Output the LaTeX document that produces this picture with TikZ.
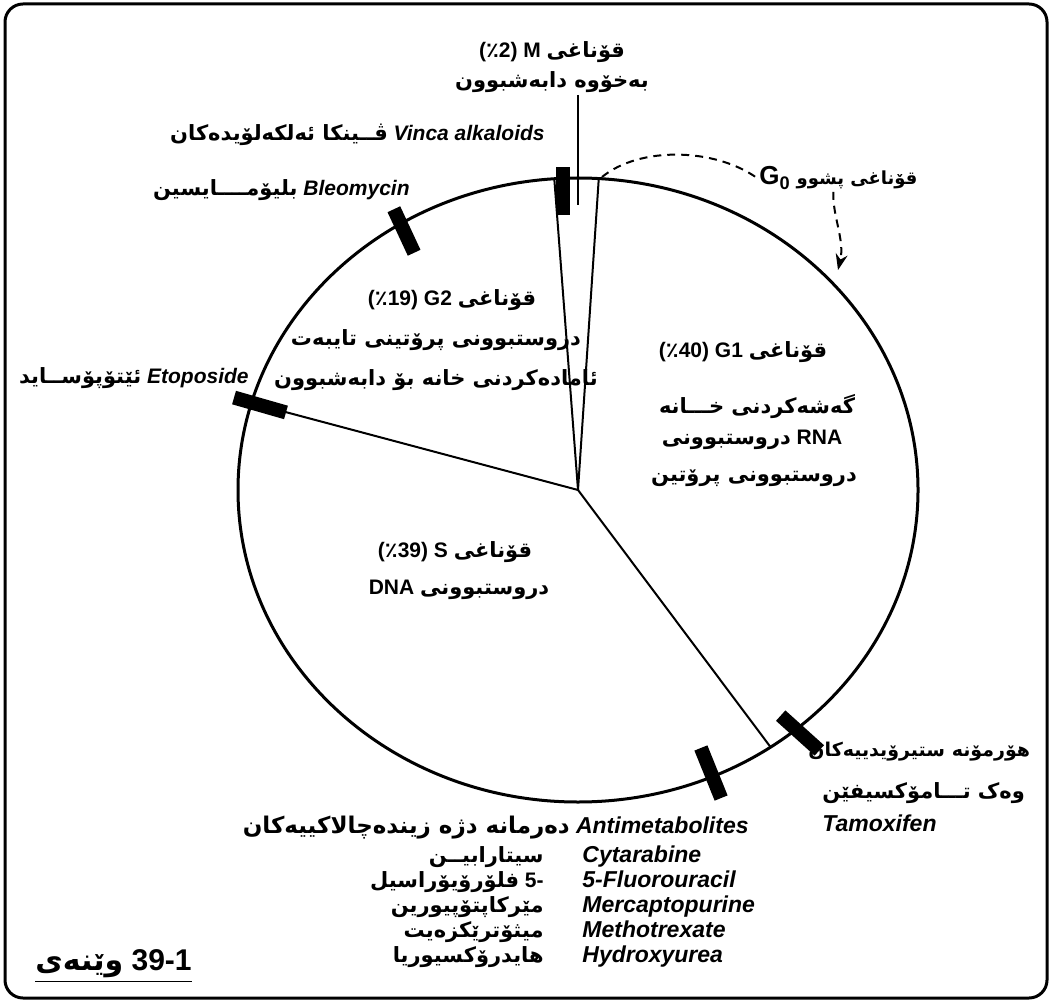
\documentclass[tikz,border=0pt]{standalone}
\usepackage{fontspec}
\setmainfont{Liberation Sans}
\newfontfamily\kufont[Script=Arabic]{DejaVu Sans}
\TeXXeTstate=1
\usetikzlibrary{arrows.meta,positioning,calc}
\newcommand{\ku}[1]{{\kufont\bfseries\beginR #1\endR}}
\newcommand{\drug}[1]{{\bfseries\itshape #1}}
\newcommand{\pc}{{\kufont\bfseries ٪}}
\tikzset{
  kutext/.style={font=\fontsize{10.5}{13}\selectfont\bfseries,inner sep=1pt},
  druglist/.style={kutext,font=\fontsize{11.5}{13}\selectfont\bfseries},
  drugbar/.style={fill=black,draw=none,minimum width=24pt,minimum height=7pt,inner sep=0pt},
  cycleline/.style={draw=black,line width=1.5pt},
  phaseline/.style={draw=black,line width=1pt},
  restline/.style={draw=black,line width=1pt,dash pattern=on 4pt off 3pt},
  frame/.style={draw=black,line width=1.5pt,rounded corners=9pt}
}
\begin{document}
\begin{tikzpicture}[x=0.5pt,y=-0.5pt]
  \useasboundingbox (0,0) rectangle (1052,1004);
  \draw[frame] (5,4) rectangle (1047,998);

  % the cycle
  \coordinate (c) at (578,490);
  \draw[cycleline] (c) ellipse [x radius=340,y radius=312];
  \coordinate (mleft) at ($(c)+(-94:340 and 312)$);
  \coordinate (mright) at ($(c)+(-86.5:340 and 312)$);
  \coordinate (gtwos) at ($(c)+(-163.8:340 and 312)$);
  \coordinate (sgone) at ($(c)+(55.5:340 and 312)$);
  \draw[phaseline] (c) -- (mleft);
  \draw[phaseline] (c) -- (mright);
  \draw[phaseline] (c) -- (gtwos);
  \draw[phaseline] (c) -- (sgone);

  % where the drugs act
  \node[drugbar,rotate=90] (vincabar) at (563,191) {};
  \node[drugbar,rotate=115] (bleobar) at (404,231) {};
  \node[drugbar,rotate=-16,minimum width=27pt] (etobar) at (260,405) {};
  \node[drugbar,rotate=-42,minimum width=26pt] (tamobar) at (800,733) {};
  \node[drugbar,rotate=-68,minimum width=27pt] (antibar) at (711,773) {};

  % phase M
  \node[kutext] (mhead) at (552,52) {(\pc 2)\ M\ \ku{قۆناغی}};
  \node[kutext] (mtext) at (552,82) {\ku{بەخۆوە دابەشبوون}};
  \coordinate (mtip) at (578,205);
  \draw[phaseline] (mtext.south -| mtip) -- (mtip);

  % phase G0
  \node[kutext,anchor=west] (gzero) at (757,178)
    {{\fontsize{13}{13}\selectfont G\textsubscript{0}}\ {\fontsize{9}{11}\selectfont\ku{قۆناغی پشوو}}};
  \coordinate (gzerostart) at (602,177);
  \coordinate (gzeroend) at (838,270);
  \draw[restline] (gzerostart) .. controls (640,146) and (715,148) .. (gzero.west);
  \draw[restline,-{Stealth[length=8pt,width=6pt]}] ($(gzero.south)+(-5,0)$)
    .. controls (832,215) and (845,240) .. (gzeroend);

  % phase G2
  \node[kutext] (gtwohead) at (452,300) {(\pc 19)\ G2\ \ku{قۆناغی}};
  \node[kutext] (gtwoa) at (436,340) {\ku{دروستبوونی پرۆتینی تایبەت}};
  \node[kutext] (gtwob) at (436,380) {\ku{ئامادەکردنی خانە بۆ دابەشبوون}};

  % phase G1
  \node[kutext] (gonehead) at (743,352) {(\pc 40)\ G1\ \ku{قۆناغی}};
  \node[kutext] (gonea) at (757,407) {\ku{گەشەکردنی خـــانە}};
  \node[kutext] (goneb) at (752,440) {\ku{دروستبوونی}\ RNA};
  \node[kutext] (gonec) at (754,478) {\ku{دروستبوونی پرۆتین}};

  % phase S
  \node[kutext] (shead) at (455,552) {(\pc 39)\ S\ \ku{قۆناغی}};
  \node[kutext] (stext) at (459,590) {DNA\ \ku{دروستبوونی}};

  % drugs
  \node[kutext,anchor=east] (vinca) at (547,135)
    {\ku{ڤــینکا ئەلکەلۆیدەکان}\ \drug{Vinca alkaloids}};
  \node[kutext,anchor=east] (bleo) at (412,190)
    {\ku{بلیۆمــــایسین}\ \drug{Bleomycin}};
  \node[kutext,anchor=east] (eto) at (251,378)
    {\ku{ئێتۆپۆســاید}\ \drug{Etoposide}};
  \node[kutext,anchor=west,font=\fontsize{9.5}{11}\selectfont\bfseries] (tamoa) at (806,752)
    {\ku{هۆرمۆنە ستیرۆیدییەکان}};
  \node[kutext,anchor=west] (tamob) at (820,793) {\ku{وەک تـــامۆکسیفێن}};
  \node[druglist,anchor=west] (tamoc) at (820,823) {\drug{Tamoxifen}};
  \node[druglist,anchor=east] (anti) at (751,828)
    {\ku{دەرمانە دژە زیندەچالاکییەکان}\ \drug{Antimetabolites}};
  \foreach \kuname/\laname [count=\i] in {%
      {\ku{سیتارابیــن}}/Cytarabine,
      {\ku{فلۆرۆیۆراسیل}\ 5-}/5-Fluorouracil,
      {\ku{مێرکاپتۆپیورین}}/Mercaptopurine,
      {\ku{میثۆترێکزەیت}}/Methotrexate,
      {\ku{هایدرۆکسیوریا}}/Hydroxyurea} {
    \node[kutext,anchor=base east] (antiku\i) at (546,837+25*\i) {\kuname};
    \node[druglist,anchor=base west] (antila\i) at (580,837+25*\i) {\drug{\laname}};
  }

  % caption
  \node[kutext,anchor=west,font=\fontsize{15}{17}\selectfont\bfseries] (caption) at (33,966)
    {\underline{\hbox{\ku{وێنەی}\ 39-1}}};
\end{tikzpicture}
\end{document}
